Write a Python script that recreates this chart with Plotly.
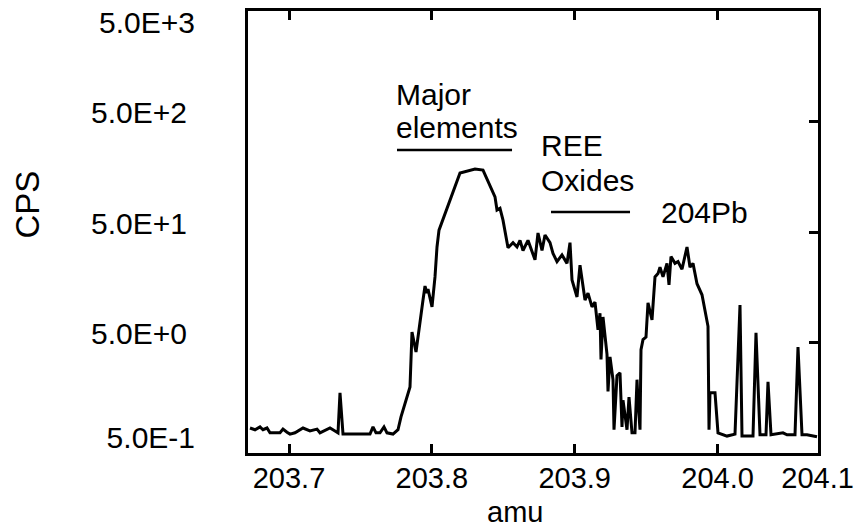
import plotly.graph_objects as go

# Mass (amu) and counts per second
amu = [203.6727, 203.6762, 203.6797, 203.6818, 203.6846, 203.6867, 203.6937, 203.6958,
       203.6986, 203.7007, 203.7042, 203.7098, 203.7147, 203.7196, 203.7217, 203.7287,
       203.7322, 203.7343, 203.7357, 203.7378, 203.7567, 203.7588, 203.7609, 203.7637,
       203.7665, 203.7686, 203.7728, 203.7763, 203.7784, 203.7847, 203.7861, 203.7889,
       203.7938, 203.7952, 203.7966, 203.7973, 203.8001, 203.8022, 203.8036, 203.8050,
       203.8197, 203.8302, 203.8358, 203.8442, 203.8456, 203.8477, 203.8498, 203.8512,
       203.8533, 203.8568, 203.8596, 203.8617, 203.8638, 203.8673, 203.8701, 203.8722,
       203.8743, 203.8771, 203.8792, 203.8827, 203.8848, 203.8876, 203.8911, 203.8946,
       203.8967, 203.8981, 203.9016, 203.9037, 203.9072, 203.9093, 203.9121, 203.9142,
       203.9163, 203.9177, 203.9184, 203.9198, 203.9226, 203.9233, 203.9247, 203.9268,
       203.9275, 203.9296, 203.9317, 203.9331, 203.9338, 203.9366, 203.9380, 203.9401,
       203.9422, 203.9436, 203.9443, 203.9457, 203.9464, 203.9478, 203.9499, 203.9513,
       203.9541, 203.9562, 203.9583, 203.9597, 203.9618, 203.9646, 203.9660, 203.9674,
       203.9702, 203.9723, 203.9751, 203.9786, 203.9807, 203.9828, 203.9856, 203.9891,
       203.9933, 203.9940, 203.9947, 203.9982, 204.0003, 204.0066, 204.0122, 204.0157,
       204.0171, 204.0248, 204.0269, 204.0297, 204.0339, 204.0353, 204.0374, 204.0458,
       204.0486, 204.0542, 204.0563, 204.0591, 204.0626, 204.0696]
cps = [0.84, 0.81, 0.86, 0.81, 0.84, 0.76, 0.76, 0.82,
       0.77, 0.74, 0.76, 0.84, 0.79, 0.82, 0.76, 0.84,
       0.79, 0.76, 1.75, 0.74, 0.74, 0.86, 0.76, 0.76,
       0.86, 0.76, 0.74, 0.81, 1.06, 1.98, 6.2, 4.1,
       12.1, 16.2, 14.0, 15.2, 10.5, 19.6, 36.6, 52,
       171, 186, 182, 104, 79, 82, 64, 52,
       36, 40, 36.6, 42, 34, 42, 34, 28,
       49, 34, 47, 40, 32, 27, 31, 26,
       40, 18.4, 12.9, 25, 12.1, 14.0, 10.5, 11.6,
       6.5, 9.2, 3.5, 8.5, 3.9, 1.8, 3.7, 2.3,
       0.81, 2.5, 2.65, 0.86, 1.5, 0.81, 1.6, 0.76,
       0.76, 2.3, 1.5, 0.81, 4.3, 5.3, 5.6, 11.4,
       8.0, 19.6, 21, 24, 19.6, 26, 16.6, 30,
       26, 27, 23, 36.6, 24, 26, 17, 13.5,
       7.0, 0.81, 1.75, 1.75, 0.76, 0.71, 0.74, 10.9,
       0.71, 0.71, 6.1, 0.73, 0.73, 2.2, 0.73, 0.76,
       0.73, 0.73, 4.55, 0.73, 0.73, 0.70]

x_tick_vals = [203.7, 203.8, 203.9, 204.0, 204.07]
x_tick_text = ["203.7", "203.8", "203.9", "204.0", "204.1"]
y_tick_vals = [0.5, 5, 50, 500, 5000]
y_tick_text = ["5.0E-1", "5.0E+0", "5.0E+1", "5.0E+2", "5.0E+3"]

FONT = "Liberation Sans, Arial, Helvetica, sans-serif"

fig = go.Figure()
fig.add_trace(go.Scatter(x=amu, y=cps, mode="lines",
                         line=dict(color="black", width=3),
                         showlegend=False, hoverinfo="skip"))
# invisible helper traces so the extra label / tick axes are drawn
for ax in ["y2", "y3", "y4"]:
    fig.add_trace(go.Scatter(x=[amu[0]], y=[cps[0]], yaxis=ax, mode="markers",
                             marker=dict(opacity=0), showlegend=False, hoverinfo="skip"))

yr = [-0.3020, 3.6999]
lab_common = dict(type="log", range=yr, ticks="", showline=False, showgrid=False,
                  zeroline=False, tickfont=dict(size=30), ticklabelstandoff=52,
                  ticklabeloverflow="allow", automargin=False)

fig.update_layout(
    width=859, height=529,
    margin=dict(l=248, r=41, t=11, b=76),
    paper_bgcolor="white", plot_bgcolor="white",
    font=dict(family=FONT, color="black"),
    xaxis=dict(range=[203.6713, 204.0703], tickvals=x_tick_vals, ticktext=x_tick_text,
               ticks="inside", ticklen=9, tickwidth=2.5, tickcolor="black",
               showline=True, linecolor="black", linewidth=3, mirror="ticks",
               showgrid=False, zeroline=False, tickfont=dict(size=29),
               ticklabelstandoff=-3, ticklabeloverflow="allow", automargin=False),
    # middle labels
    yaxis=dict(**{**lab_common, "showline": True}, linecolor="black", linewidth=3,
               mirror=True, tickvals=y_tick_vals[1:4], ticktext=y_tick_text[1:4],
               ticklabelshift=-9),
    # right-hand inner ticks
    yaxis2=dict(type="log", range=yr, overlaying="y", side="right", tickvals=y_tick_vals,
                ticks="inside", ticklen=9, tickwidth=2.5, tickcolor="black",
                showticklabels=False, showline=False, showgrid=False, zeroline=False,
                automargin=False),
    # end labels, placed inside the frame as in the original
    yaxis3=dict(**lab_common, overlaying="y", side="left",
                tickvals=y_tick_vals[4:], ticktext=y_tick_text[4:], ticklabelshift=11),
    yaxis4=dict(**lab_common, overlaying="y", side="left",
                tickvals=y_tick_vals[:1], ticktext=y_tick_text[:1], ticklabelshift=-15),
)

ann = dict(xref="paper", yref="paper", showarrow=False, font=dict(size=30, color="black"),
           xanchor="left", yanchor="middle")
fig.add_annotation(text="Major", x=0.2561, y=0.81, **ann)
fig.add_annotation(text="elements", x=0.2561, y=0.7375, **ann)
fig.add_annotation(text="REE", x=0.5105, y=0.6946, **ann)
fig.add_annotation(text="Oxides", x=0.5105, y=0.6154, **ann)
fig.add_annotation(text="204Pb", x=0.7210, y=0.5430, **ann)
fig.add_annotation(text="CPS", x=-0.3860, y=0.5620, xref="paper", yref="paper",
                   showarrow=False, textangle=-90, font=dict(size=33, color="black"),
                   xanchor="center", yanchor="middle")
fig.add_annotation(text="amu", x=0.4684, y=-0.133, xref="paper", yref="paper",
                   showarrow=False, font=dict(size=29, color="black"),
                   xanchor="center", yanchor="middle")

fig.add_shape(type="line", xref="paper", yref="paper", x0=0.2614, x1=0.4632,
              y0=0.6855, y1=0.6855, line=dict(color="black", width=2.5))
fig.add_shape(type="line", xref="paper", yref="paper", x0=0.5316, x1=0.6702,
              y0=0.5452, y1=0.5452, line=dict(color="black", width=2.5))

fig.write_html("out.html", config={"displayModeBar": False},
               post_script="document.body.style.margin='0px';")
